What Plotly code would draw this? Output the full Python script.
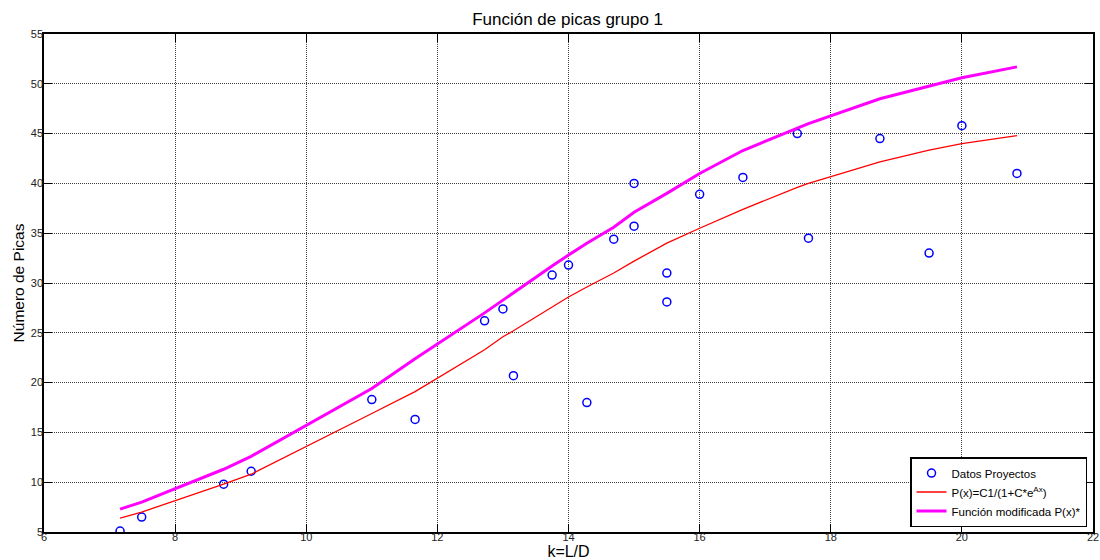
import plotly.graph_objects as go

# Project data: slenderness k = L/D and number of picks
k_datos = [7.16, 7.49, 8.74, 9.16, 11.0, 11.66, 12.72, 13.0, 13.16, 13.75, 14.0, 14.28,
           14.69, 15.0, 15.0, 15.5, 15.5, 16.0, 16.66, 17.49, 17.66, 18.75, 19.5, 20.0, 20.84]
picas_datos = [5.1, 6.5, 9.8, 11.1, 18.3, 16.3, 26.2, 27.4, 20.7, 30.8, 31.8, 18.0,
               34.4, 35.7, 40.0, 31.0, 28.1, 38.9, 40.6, 45.0, 34.5, 44.5, 33.0, 45.8, 41.0]

# Fitted curve P(x) and the modified curve, evaluated at the project abscissas
k_curva = [7.16, 7.49, 8.74, 9.16, 11.0, 11.66, 12.72, 13.0, 13.16, 13.75, 14.0, 14.28,
           14.69, 15.0, 15.5, 16.0, 16.66, 17.49, 17.66, 18.75, 19.5, 20.0, 20.84]
p_ajuste = [6.4, 7.0, 9.8, 10.8, 16.9, 19.1, 23.3, 24.6, 25.2, 27.6, 28.6, 29.6,
            31.0, 32.2, 34.0, 35.5, 37.4, 39.6, 40.0, 42.15, 43.35, 44.0, 44.8]
p_modificada = [7.3, 8.0, 11.3, 12.6, 19.4, 22.4, 27.0, 28.3, 29.0, 31.7, 32.8, 34.0,
                35.6, 37.1, 39.0, 41.0, 43.3, 45.6, 46.0, 48.5, 49.8, 50.6, 51.7]

x_ticks = [6, 8, 10, 12, 14, 16, 18, 20, 22]
y_ticks = [5, 10, 15, 20, 25, 30, 35, 40, 45, 50, 55]

FONT = "Liberation Sans, Arial, sans-serif"

fig = go.Figure()
fig.add_trace(go.Scatter(
    x=k_datos, y=picas_datos, mode="markers", name="Datos Proyectos",
    marker=dict(symbol="circle-open", size=8, color="#0000ff", line=dict(width=1.5, color="#0000ff")),
))
fig.add_trace(go.Scatter(
    x=k_curva, y=p_ajuste, mode="lines", name="P(x)=C1/(1+C*e<sup>Ax</sup>)",
    line=dict(color="#ff0000", width=1.3),
))
fig.add_trace(go.Scatter(
    x=k_curva, y=p_modificada, mode="lines", name="Función modificada P(x)*",
    line=dict(color="#ff00ff", width=3),
))

axis_common = dict(
    showline=True, linecolor="black", linewidth=1.5, mirror="ticks",
    ticks="inside", ticklen=8, tickwidth=1, tickcolor="black",
    showgrid=True, gridcolor="rgba(0,0,0,0.75)", griddash="1px,1px", gridwidth=1,
    zeroline=False, tickfont=dict(family=FONT, size=11, color="#222"),
)

fig.update_layout(
    width=1100, height=560,
    margin=dict(l=44, r=7, t=34, b=28),
    paper_bgcolor="white", plot_bgcolor="white",
    font=dict(family=FONT, color="black"),
    title=dict(text="Función de picas grupo 1", x=0.516, xanchor="center",
               y=0.966, yanchor="middle", font=dict(family=FONT, size=17, color="black")),
    xaxis=dict(range=[6, 22], tickvals=x_ticks, ticktext=[str(v) for v in x_ticks],
               ticklabelstandoff=-6,
               title=dict(text="k=L/D", font=dict(family=FONT, size=16), standoff=0),
               automargin=False, **axis_common),
    yaxis=dict(range=[5, 55], tickvals=y_ticks, ticktext=[str(v) for v in y_ticks],
               ticklabelstandoff=-3,
               title=dict(text="Número de Picas", font=dict(family=FONT, size=15.5), standoff=2),
               automargin=False, **axis_common),
    legend=dict(x=0.9943, y=0.01, xanchor="right", yanchor="bottom",
                bgcolor="white", bordercolor="black", borderwidth=1.5,
                font=dict(family=FONT, size=11.5, color="black"),
                tracegroupgap=0, itemwidth=30),
    showlegend=True,
)

fig.write_html("out.html")
